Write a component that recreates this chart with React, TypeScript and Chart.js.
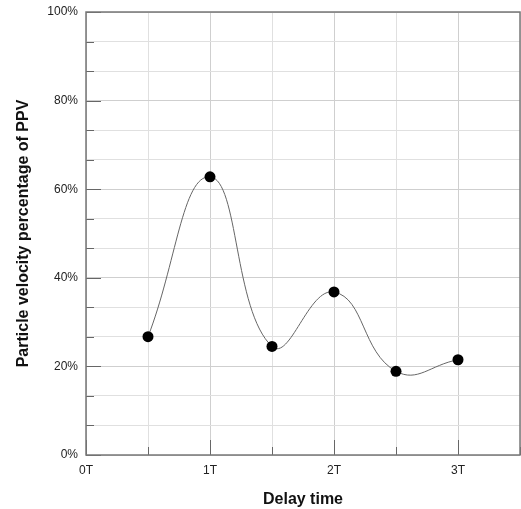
import React, { useEffect, useRef } from "react";
import { Chart, registerables } from "chart.js";

Chart.register(...registerables);

const delayTimes = [0.5, 1, 1.5, 2, 2.5, 3];
const ppvPercent = [26.7, 62.8, 24.5, 36.8, 18.9, 21.5];
const xTickLabelValues = [0, 1, 2, 3];
const yTickLabelValues = [0, 20, 40, 60, 80, 100];

const isMult = (v: number, m: number) => Math.abs(v / m - Math.round(v / m)) < 1e-6;

const innerTicks = {
  id: "innerTicks",
  afterDatasetsDraw(chart: any) {
    const { ctx, chartArea } = chart;
    const xs = chart.scales.x;
    const ys = chart.scales.y;
    ctx.save();
    ctx.strokeStyle = "#666";
    ctx.lineWidth = 1;
    xs.ticks.forEach((t: any) => {
      const px = Math.round(xs.getPixelForValue(t.value)) + 0.5;
      const len = isMult(t.value, 1) ? 15 : 8;
      ctx.beginPath();
      ctx.moveTo(px, chartArea.bottom);
      ctx.lineTo(px, chartArea.bottom - len);
      ctx.stroke();
    });
    ys.ticks.forEach((t: any) => {
      const py = Math.round(ys.getPixelForValue(t.value)) + 0.5;
      const len = isMult(t.value, 20) ? 15 : 8;
      ctx.beginPath();
      ctx.moveTo(chartArea.left, py);
      ctx.lineTo(chartArea.left + len, py);
      ctx.stroke();
    });
    ctx.strokeStyle = "#777";
    ctx.lineWidth = 1.5;
    ctx.strokeRect(chartArea.left, chartArea.top, chartArea.right - chartArea.left, chartArea.bottom - chartArea.top);
    ctx.restore();
  },
};

export default function App() {
  const ref = useRef<HTMLCanvasElement | null>(null);
  useEffect(() => {
    document.body.style.margin = "0";
    const chart = new Chart(ref.current!, {
      type: "scatter",
      data: {
        datasets: [
          {
            data: delayTimes.map((x, i) => ({ x, y: ppvPercent[i] })),
            showLine: true,
            tension: 0.45,
            borderColor: "#666",
            borderWidth: 1,
            pointRadius: 5.5,
            pointBackgroundColor: "#000",
            pointBorderColor: "#000",
            pointBorderWidth: 0,
          },
        ],
      },
      options: {
        animation: false,
        responsive: false,
        layout: { autoPadding: false, padding: { left: 0, right: 1, top: 12, bottom: 0 } },
        plugins: { legend: { display: false }, tooltip: { enabled: false } },
        scales: {
          x: {
            type: "linear",
            min: 0,
            max: 3.5,
            afterFit: (s: any) => {
              s.height = 54;
              s.paddingLeft = 0;
              s.paddingRight = 0;
            },
            ticks: {
              stepSize: 0.5,
              autoSkip: false,
              maxRotation: 0,
              padding: 8,
              color: "#222",
              font: { family: "Liberation Sans, Arial", size: 12 },
              callback: (v: any) => (xTickLabelValues.some((t) => Math.abs(t - v) < 1e-6) ? `${Math.round(v)}T` : ""),
            },
            grid: {
              drawTicks: false,
              color: (c: any) => (c.tick && isMult(c.tick.value, 1) ? "#cfcfcf" : "#e0e0e0"),
            },
            border: { display: false },
            title: {
              display: true,
              text: "Delay time",
              color: "#111",
              font: { family: "Liberation Sans, Arial", size: 16, weight: "bold" },
              padding: { top: 0, bottom: 0 },
            },
          },
          y: {
            min: 0,
            max: 100,
            afterFit: (s: any) => {
              s.width = 86;
              s.paddingTop = 0;
              s.paddingBottom = 0;
            },
            ticks: {
              stepSize: 20 / 3,
              autoSkip: false,
              padding: 8,
              color: "#222",
              font: { family: "Liberation Sans, Arial", size: 12 },
              callback: (v: any) => (yTickLabelValues.some((t) => Math.abs(t - v) < 1e-6) ? `${Math.round(v)}%` : ""),
            },
            grid: {
              drawTicks: false,
              color: (c: any) => (c.tick && isMult(c.tick.value, 20) ? "#cfcfcf" : "#e0e0e0"),
            },
            border: { display: false },
            title: {
              display: true,
              text: "Particle velocity percentage of PPV",
              color: "#111",
              font: { family: "Liberation Sans, Arial", size: 16, weight: "bold" },
              padding: { top: 14, bottom: 0 },
            },
          },
        },
      },
      plugins: [innerTicks],
    });
    return () => chart.destroy();
  }, []);
  return <canvas ref={ref} width={521} height={509} style={{ display: "block" }} />;
}
